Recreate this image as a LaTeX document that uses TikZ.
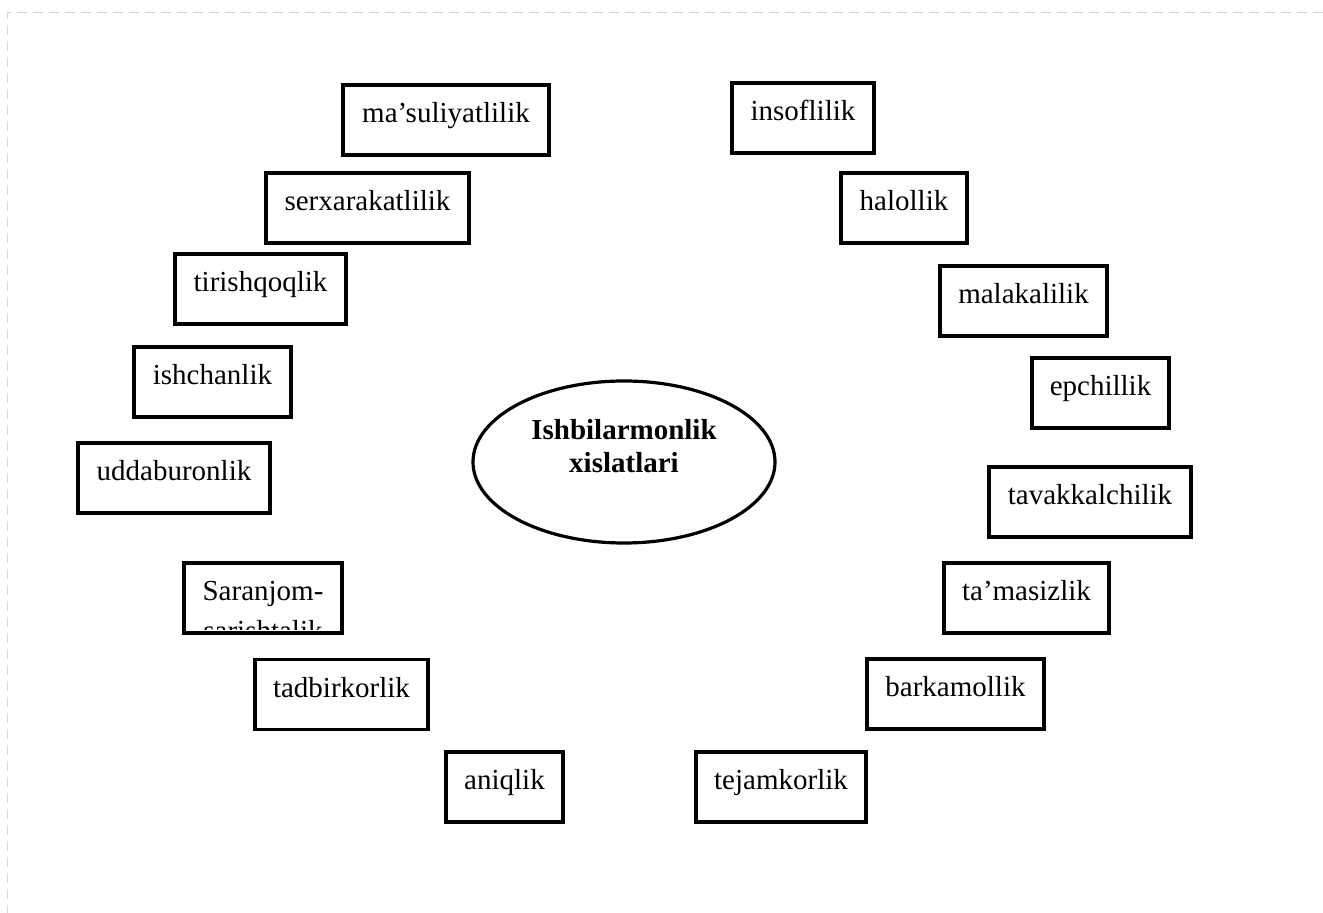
\documentclass[tikz,border=0pt]{standalone}
\usepackage{fontspec}
\setmainfont{Liberation Serif}
\usetikzlibrary{shapes.geometric}
\definecolor{framegray}{RGB}{215,215,215}
\tikzset{
  box/.style={draw, line width=1.6pt, minimum width=#1, minimum height=35pt,
              inner sep=0pt, text height=19pt, text depth=16pt},
  lbl/.style={inner sep=0pt, anchor=base},
  core/.style={draw, ellipse, line width=1.6pt, minimum width=151pt,
               minimum height=81pt, inner sep=0pt},
  pageframe/.style={draw=framegray, line width=0.5pt, dash pattern=on 5pt off 3pt}
}
\begin{document}
\begin{tikzpicture}[x=0.5pt, y=-0.5pt, font=\fontsize{14.5pt}{16.5pt}\selectfont]
\fill[white] (0,0) rectangle (1323,913);
\useasboundingbox (0,0) rectangle (1323,913);
\draw[pageframe] (1323,13) -- (7,13) -- (7,913);

% centre
\node[core] (c) at (624,462) {};
\node[lbl, font=\fontsize{14.5pt}{16.5pt}\selectfont\bfseries] (ct1) at (624,440) {Ishbilarmonlik};
\node[lbl, font=\fontsize{14.5pt}{16.5pt}\selectfont\bfseries] (ct2) at (624,473) {xislatlari};

% left column
\node[box=103pt]  (mas) at (446,120)   {ma’suliyatlilik};
\node[box=101.5pt](ser) at (367.5,208) {serxarakatlilik};
\node[box=85.5pt] (tir) at (260.5,289) {tirishqoqlik};
\node[box=78.5pt] (ish) at (212.5,382) {ishchanlik};
\node[box=96pt]   (udd) at (174,478)   {uddaburonlik};
\begin{scope}
  \clip (186,566) rectangle (340,630);
  \node[lbl] (sar2) at (263,641) {sarishtalik};
\end{scope}
\node[box=79pt]   (sar) at (263,598)   {Saranjom-};
\node[box=86.5pt] (tad) at (341.5,694.5) {tadbirkorlik};
\node[box=58.5pt] (ani) at (504.5,787) {aniqlik};

% right column
\node[box=71pt]   (ins) at (803,118)   {insoflilik};
\node[box=63pt]   (hal) at (904,208)   {halollik};
\node[box=83.5pt] (mal) at (1023.5,301) {malakalilik};
\node[box=68.5pt] (epc) at (1100.5,393) {epchillik};
\node[box=101pt]  (tav) at (1090,502)  {tavakkalchilik};
\node[box=82.5pt] (tam) at (1026.5,598) {ta’masizlik};
\node[box=88.5pt] (bar) at (955.5,694) {barkamollik};
\node[box=85pt]   (tej) at (781,787)   {tejamkorlik};
\end{tikzpicture}
\end{document}
